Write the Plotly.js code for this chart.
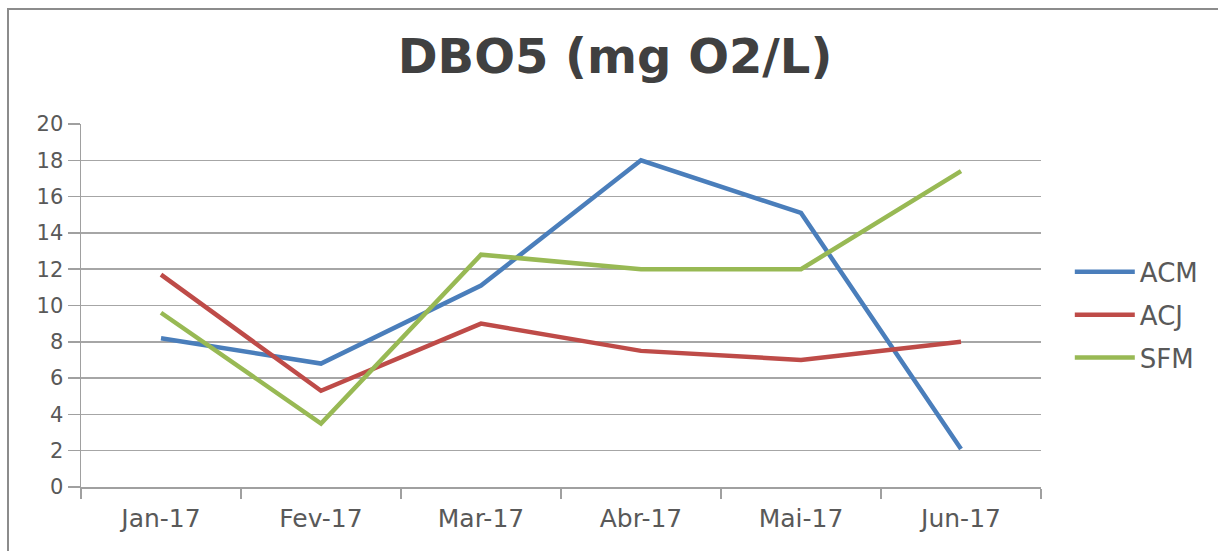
<!DOCTYPE html>
<html>
<head>
<meta charset="utf-8">
<script src="https://cdn.plot.ly/plotly-3.0.1.min.js"></script>
<style>
  html, body { margin: 0; padding: 0; background: #fff; }
  #wrap { position: relative; width: 1218px; height: 551px; }
  #chart { position: absolute; left: 0; top: 0; width: 1218px; height: 551px; }
  #frame { position: absolute; left: 7px; top: 8px; right: 0; bottom: 0;
           border-top: 2px solid #8c8c8c; border-left: 2px solid #8c8c8c;
           pointer-events: none; }
</style>
</head>
<body>
<div id="wrap">
  <div id="chart"></div>
  <div id="frame"></div>
</div>
<script>
const months = ['Jan-17', 'Fev-17', 'Mar-17', 'Abr-17', 'Mai-17', 'Jun-17'];
const acm = [8.2, 6.8, 11.1, 18.0, 15.1, 2.1];
const acj = [11.7, 5.3, 9.0, 7.5, 7.0, 8.0];
const sfm = [9.6, 3.5, 12.8, 12.0, 12.0, 17.4];
const seriesNames = ['ACM', 'ACJ', 'SFM'];
const seriesColors = ['#4A7EBB', '#BE4B48', '#98B954'];

const seriesData = [acm, acj, sfm];
const traces = seriesData.map((vals, i) => ({
  type: 'scatter',
  mode: 'lines',
  name: seriesNames[i],
  legendgroup: seriesNames[i],
  x: months,
  y: vals,
  line: { color: seriesColors[i], width: 4.5 }
}));

const layout = {
  width: 1218,
  height: 551,
  paper_bgcolor: 'rgba(0,0,0,0)',
  plot_bgcolor: 'rgba(0,0,0,0)',
  margin: { l: 81, r: 177, t: 124, b: 64 },
  font: { family: 'DejaVu Sans', color: '#595959' },
  title: {
    text: '<b>DBO5 (mg O2/L)</b>',
    font: { family: 'DejaVu Sans', size: 48, color: '#404040' },
    x: 0.505, xanchor: 'center',
    y: 1 - 56 / 551, yanchor: 'middle'
  },
  xaxis: {
    type: 'category',
    range: [-0.5, 5.5],
    tickson: 'boundaries',
    ticks: 'outside',
    ticklen: 10,
    tickwidth: 1.5,
    tickcolor: '#a0a0a0',
    showline: true,
    linecolor: '#a0a0a0',
    linewidth: 1.5,
    showgrid: false,
    zeroline: false,
    tickfont: { size: 25, color: '#595959' },
    ticklabelstandoff: 8
  },
  yaxis: {
    range: [0, 20],
    dtick: 2,
    tick0: 0,
    ticks: 'outside',
    ticklen: 12,
    tickwidth: 1.5,
    tickcolor: '#a0a0a0',
    showline: true,
    linecolor: '#a0a0a0',
    linewidth: 1.5,
    showgrid: true,
    gridcolor: '#a6a6a6',
    gridwidth: 1.5,
    zeroline: false,
    tickfont: { size: 21, color: '#595959' },
    ticklabelstandoff: 0
  },
  showlegend: true,
  legend: {
    x: 1.03, xanchor: 'left',
    y: 0.474, yanchor: 'middle',
    font: { size: 26, color: '#595959' },
    tracegroupgap: 6,
    itemwidth: 60,
    bgcolor: 'rgba(0,0,0,0)'
  }
};

Plotly.newPlot('chart', traces, layout, { displayModeBar: false, staticPlot: true });
</script>
</body>
</html>
